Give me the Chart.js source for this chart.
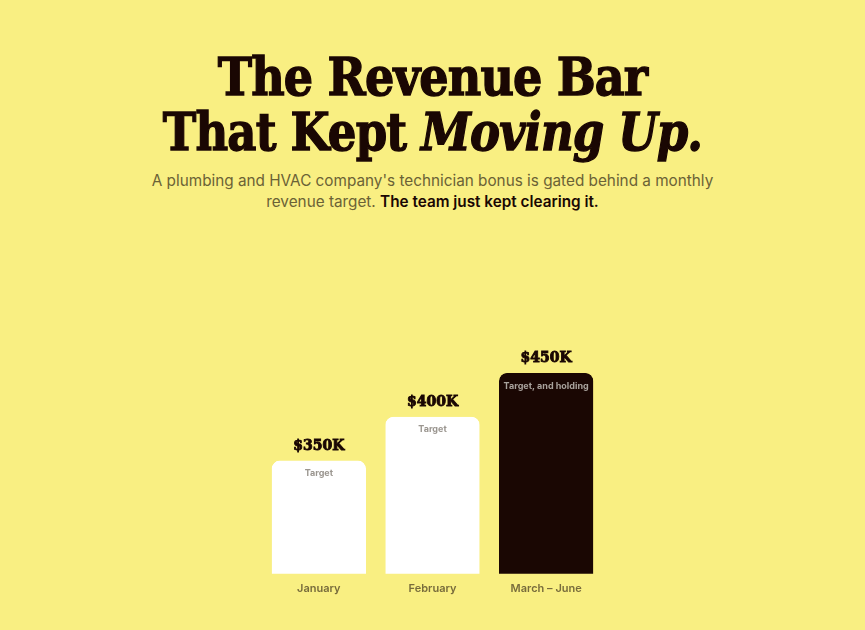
<!DOCTYPE html>
<html>
<head>
<meta charset="utf-8">
<script src="https://cdn.jsdelivr.net/npm/chart.js@4.4.1/dist/chart.umd.min.js"></script>
<style>
  html, body { margin:0; padding:0; }
  body { width:865px; height:630px; background:#f9ef82; position:relative; overflow:hidden; font-family:Inter, "Noto Sans", sans-serif; }
  #title { position:absolute; left:0; top:49px; width:865px; text-align:center; margin:0;
    font-family:"DejaVu Serif",serif; font-weight:bold;
    font-size:53px; line-height:55px; color:#1a0703; letter-spacing:-1px;
    -webkit-text-stroke:1.4px #1a0703; }
  #title span { display:block; transform-origin:50% 0; }
  #l1 { transform:scaleX(0.87); }
  #l2 { transform:scaleX(0.85); }
  #title em { font-style:italic; }
  #sub { position:absolute; left:0; top:170px; width:865px; text-align:center; margin:0;
    font-size:15.3px; line-height:21px; color:#6b6236; }
  #sub b { color:#1a0703; font-weight:600; }
  #wrap { position:absolute; left:262px; top:330px; width:341px; height:265px; }
</style>
</head>
<body>
<h1 id="title"><span id="l1">The Revenue Bar</span><span id="l2">That Kept <em>Moving Up.</em></span></h1>
<p id="sub">A plumbing and HVAC company's technician bonus is gated behind a monthly<br>revenue target. <b>The team just kept clearing it.</b></p>
<div id="wrap"><canvas id="chart"></canvas></div>
<script>
// data
const months = ["January", "February", "March \u2013 June"];
const revenueK = [350, 400, 450];
const valueLabels = ["$350K", "$400K", "$450K"];
const innerLabels = ["Target", "Target", "Target, and holding"];

const barColors = ["#ffffff", "#ffffff", "#1a0703"];
const innerColors = ["#9b9690", "#9b9690", "#a8a29c"];

// labels above and inside the bars
const barText = {
    id: "barText",
    afterDatasetsDraw(chart) {
        var ctx = chart.ctx;
        var meta = chart.getDatasetMeta(0);
        ctx.save();
        ctx.textAlign = "center";
        for (var i = 0; i < meta.data.length; i++) {
            var bar = meta.data[i];
            ctx.fillStyle = "#1a0703";
            ctx.strokeStyle = "#1a0703";
            ctx.lineWidth = 0.9;
            ctx.font = "bold 14px 'DejaVu Serif'";
            ctx.textBaseline = "alphabetic";
            ctx.fillText(valueLabels[i], bar.x, bar.y - 11);
            ctx.strokeText(valueLabels[i], bar.x, bar.y - 11);
            ctx.fillStyle = innerColors[i];
            ctx.font = "bold 9px Inter";
            ctx.textBaseline = "middle";
            ctx.fillText(innerLabels[i], bar.x, bar.y + 13);
        }
        ctx.restore();
    }
};

var ctx_chart = document.getElementById("chart").getContext("2d");
var chart = new Chart(ctx_chart, {
    type: "bar",
    data: {
        labels: months,
        datasets: [{
            data: revenueK,
            backgroundColor: barColors,
            borderColor: ["#e8e6e0", "#e8e6e0", "#1a0703"],
            borderWidth: { top: 0, left: 0, right: 0, bottom: 1 },
            borderSkipped: false,
            borderRadius: { topLeft: 8, topRight: 8, bottomLeft: 0, bottomRight: 0 },
            barPercentage: 0.83,
            categoryPercentage: 1
        }]
    },
    options: {
        responsive: true,
        maintainAspectRatio: false,
        animation: false,
        layout: { padding: { top: 42, bottom: 0, left: 0, right: 0 } },
        plugins: {
            legend: { display: false },
            tooltip: { enabled: false }
        },
        scales: {
            x: {
                grid: { display: false },
                border: { display: false },
                ticks: { color: "#786c3c", font: { family: "Inter", size: 11, weight: 600 }, padding: 0 }
            },
            y: {
                display: false,
                min: 221,
                max: 451
            }
        }
    },
    plugins: [barText]
});
</script>
</body>
</html>
